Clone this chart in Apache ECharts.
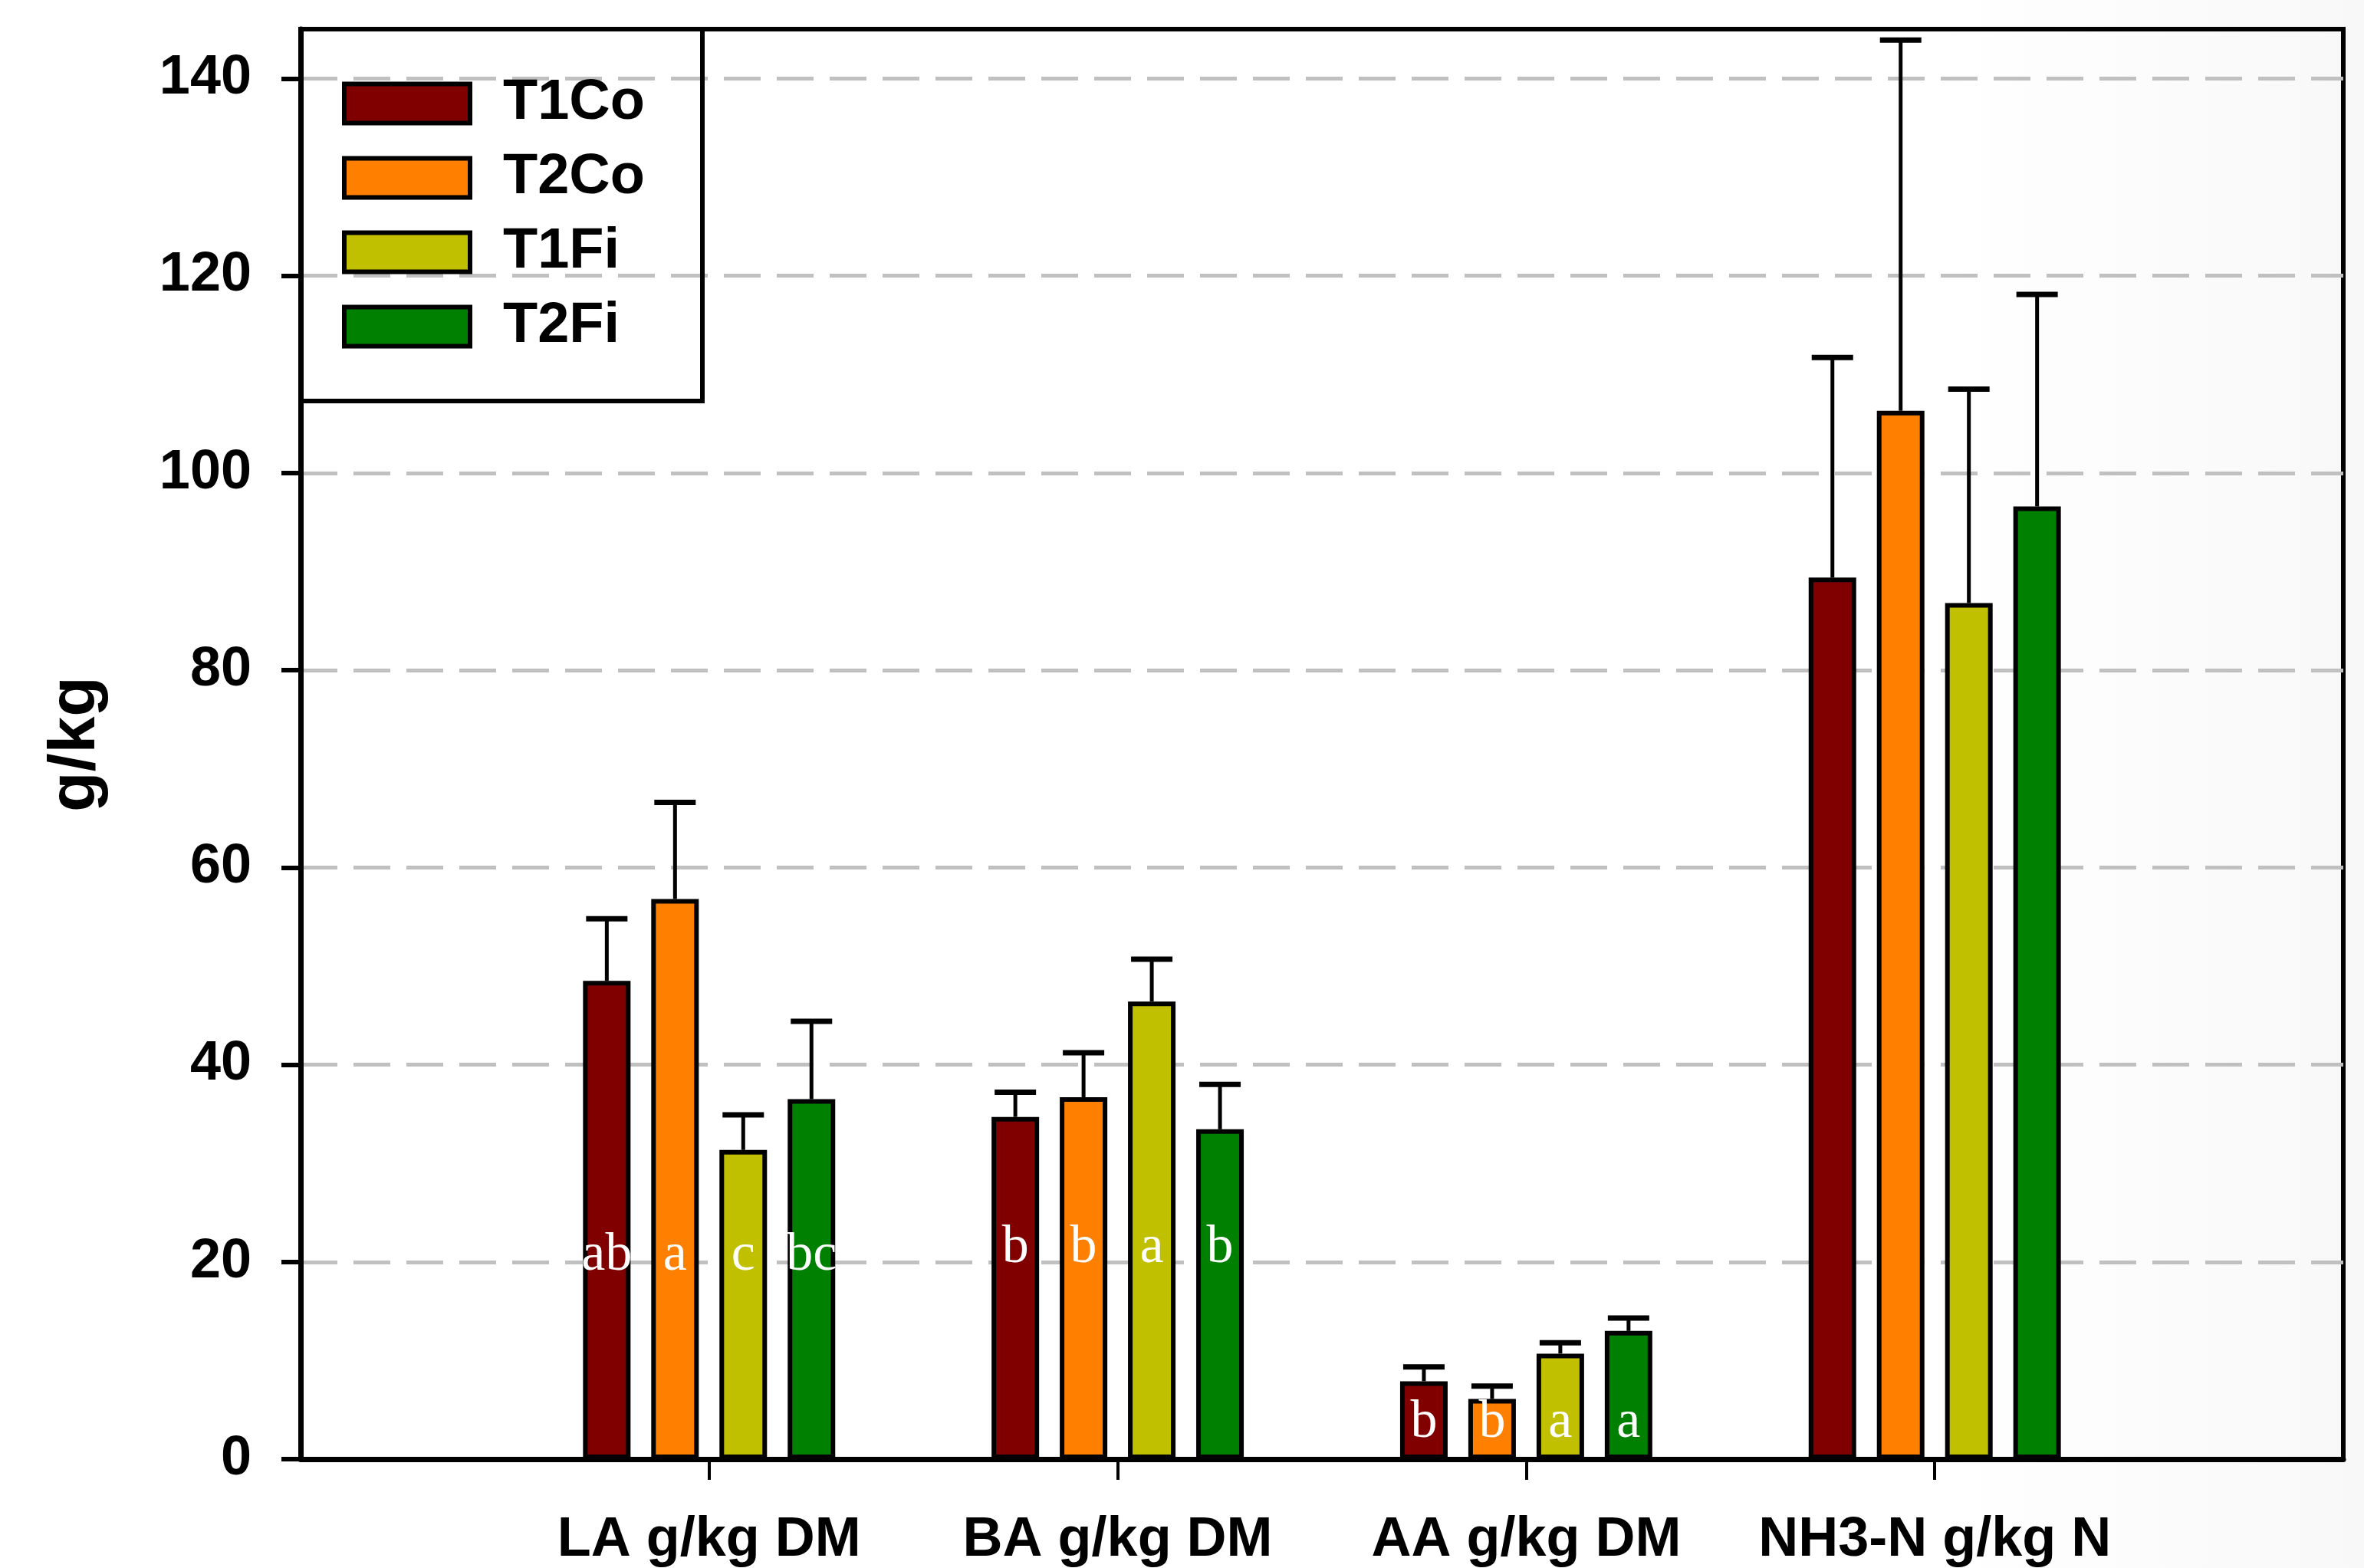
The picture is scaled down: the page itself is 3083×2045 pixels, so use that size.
<!DOCTYPE html>
<html>
<head>
<meta charset="utf-8">
<script src="https://cdn.jsdelivr.net/npm/echarts@6/dist/echarts.min.js"></script>
<style>
html,body{margin:0;padding:0;background:#fff;}
#chart{width:3083px;height:2045px;}
</style>
</head>
<body>
<div id="chart"></div>
<script>
// ---- data ----
const categories = ['LA g/kg DM', 'BA g/kg DM', 'AA g/kg DM', 'NH3-N g/kg N'];
const seriesNames = ['T1Co', 'T2Co', 'T1Fi', 'T2Fi'];
const T1Co = [48.5, 34.7, 7.9, 89.4];
const T2Co = [56.8, 36.7, 6.1, 106.3];
const T1Fi = [31.35, 46.4, 10.7, 86.8];
const T2Fi = [36.5, 33.45, 13.0, 96.6];
const T1Co_sd = [6.3, 2.5, 1.45, 22.3];
const T2Co_sd = [9.8, 4.5, 1.3, 37.6];
const T1Fi_sd = [3.55, 4.3, 1.1, 21.7];
const T2Fi_sd = [7.9, 4.55, 1.3, 21.5];
const T1Co_letters = ['ab', 'b', 'b', ''];
const T2Co_letters = ['a', 'b', 'b', ''];
const T1Fi_letters = ['c', 'a', 'a', ''];
const T2Fi_letters = ['bc', 'b', 'a', ''];
const yTicks = [0, 20, 40, 60, 80, 100, 120, 140];

// ---- styles / layout ----
const colors = ['#800000', '#FF8000', '#C0C000', '#008000'];
const BAR_W = 62;
const BAR_GAP = 0.435;
const CAP_HALF = 27;
const letterAnchor = [20.6, 21.4, 3.7, 0]; // vertical anchor (axis units) of the letter row per group
const FONT = '"Liberation Sans", Arial, sans-serif';

const means = [T1Co, T2Co, T1Fi, T2Fi];
const sds = [T1Co_sd, T2Co_sd, T1Fi_sd, T2Fi_sd];
const letters = [T1Co_letters, T2Co_letters, T1Fi_letters, T2Fi_letters];

// category axis with empty end slots so the groups sit at 1..4 of 5 bands
const axisCats = [''].concat(categories, ['']);

function offsetOf(i) {
  return (i - 1.5) * BAR_W * (1 + BAR_GAP);
}

const series = [];
seriesNames.forEach(function (name, i) {
  series.push({
    name: name,
    type: 'bar',
    barWidth: BAR_W,
    barGap: (BAR_GAP * 100) + '%',
    itemStyle: { color: colors[i], borderColor: '#000', borderWidth: 6 },
    data: ['-'].concat(means[i], ['-']),
    z: 3
  });
});
seriesNames.forEach(function (name, i) {
  series.push({
    name: name + ' SD',
    type: 'custom',
    z: 2,
    renderItem: function (params, api) {
      const cat = api.value(0), m = api.value(1), top = api.value(2);
      const p0 = api.coord([cat, m]);
      const p1 = api.coord([cat, top]);
      const x = p0[0] + offsetOf(i);
      return {
        type: 'group',
        children: [
          { type: 'line', shape: { x1: x, y1: p0[1], x2: x, y2: p1[1] }, style: { stroke: '#000', lineWidth: 5 } },
          { type: 'line', shape: { x1: x - CAP_HALF, y1: p1[1], x2: x + CAP_HALF, y2: p1[1] }, style: { stroke: '#000', lineWidth: 7 } }
        ]
      };
    },
    data: means[i].map(function (v, k) { return [k + 1, v, v + sds[i][k]]; })
  });
});
seriesNames.forEach(function (name, i) {
  const items = [];
  letters[i].forEach(function (t, k) { if (t) items.push([k + 1, letterAnchor[k], k]); });
  series.push({
    name: name + ' letters',
    type: 'custom',
    z: 5,
    renderItem: function (params, api) {
      const cat = api.value(0), yv = api.value(1), k = api.value(2);
      const p = api.coord([cat, yv]);
      return {
        type: 'text',
        x: p[0] + offsetOf(i),
        y: p[1],
        style: {
          text: letters[i][k],
          fill: '#fff',
          font: '70px "Liberation Serif", "Times New Roman", serif',
          align: 'center',
          verticalAlign: 'middle'
        }
      };
    },
    data: items
  });
});

const chart = echarts.init(document.getElementById('chart'), null, { renderer: 'canvas' });
chart.setOption({
  animation: false,
  backgroundColor: {
    type: 'linear', x: 0, y: 0, x2: 1, y2: 0,
    colorStops: [
      { offset: 0, color: '#ffffff' },
      { offset: 0.82, color: '#ffffff' },
      { offset: 1, color: '#f8f8f8' }
    ]
  },
  grid: {
    left: 392, right: 27, top: 38, bottom: 142,
    show: true, borderColor: '#000', borderWidth: 6, backgroundColor: 'transparent'
  },
  legend: {
    data: seriesNames,
    orient: 'vertical',
    left: 392,
    top: 38,
    icon: 'rect',
    itemWidth: 164,
    itemHeight: 51,
    itemGap: 23,
    padding: [60, 75, 60, 54],
    borderColor: '#000',
    borderWidth: 6,
    backgroundColor: 'transparent',
    selectedMode: false,
    itemStyle: { borderColor: '#000', borderWidth: 6 },
    textStyle: {
      fontFamily: FONT, fontWeight: 'bold', fontSize: 74, color: '#000',
      lineHeight: 51, padding: [0, 0, 0, 38]
    }
  },
  xAxis: {
    type: 'category',
    data: axisCats,
    boundaryGap: false,
    axisLine: { show: true, lineStyle: { color: '#000', width: 7 } },
    axisTick: {
      show: true, length: 27, lineStyle: { color: '#000', width: 4 },
      interval: function (idx) { return idx > 0 && idx < axisCats.length - 1; }
    },
    axisLabel: {
      interval: 0, margin: 70,
      fontFamily: FONT, fontWeight: 'bold', fontSize: 72, color: '#000'
    },
    splitLine: { show: false }
  },
  yAxis: {
    type: 'value',
    min: 0, max: 145, interval: 20,
    name: 'g/kg',
    nameLocation: 'middle',
    nameRotate: 90,
    nameGap: 250,
    nameTextStyle: { fontFamily: FONT, fontWeight: 'bold', fontSize: 86, color: '#000' },
    axisLine: { show: true, lineStyle: { color: '#000', width: 7 } },
    axisTick: { show: true, length: 25, lineStyle: { color: '#000', width: 6 }, customValues: yTicks },
    axisLabel: {
      margin: 64, customValues: yTicks,
      fontFamily: FONT, fontWeight: 'bold', fontSize: 72, color: '#000'
    },
    splitLine: { show: true, lineStyle: { color: '#c0c0c0', width: 5, type: [48, 21] } }
  },
  series: series
});
</script>
</body>
</html>
